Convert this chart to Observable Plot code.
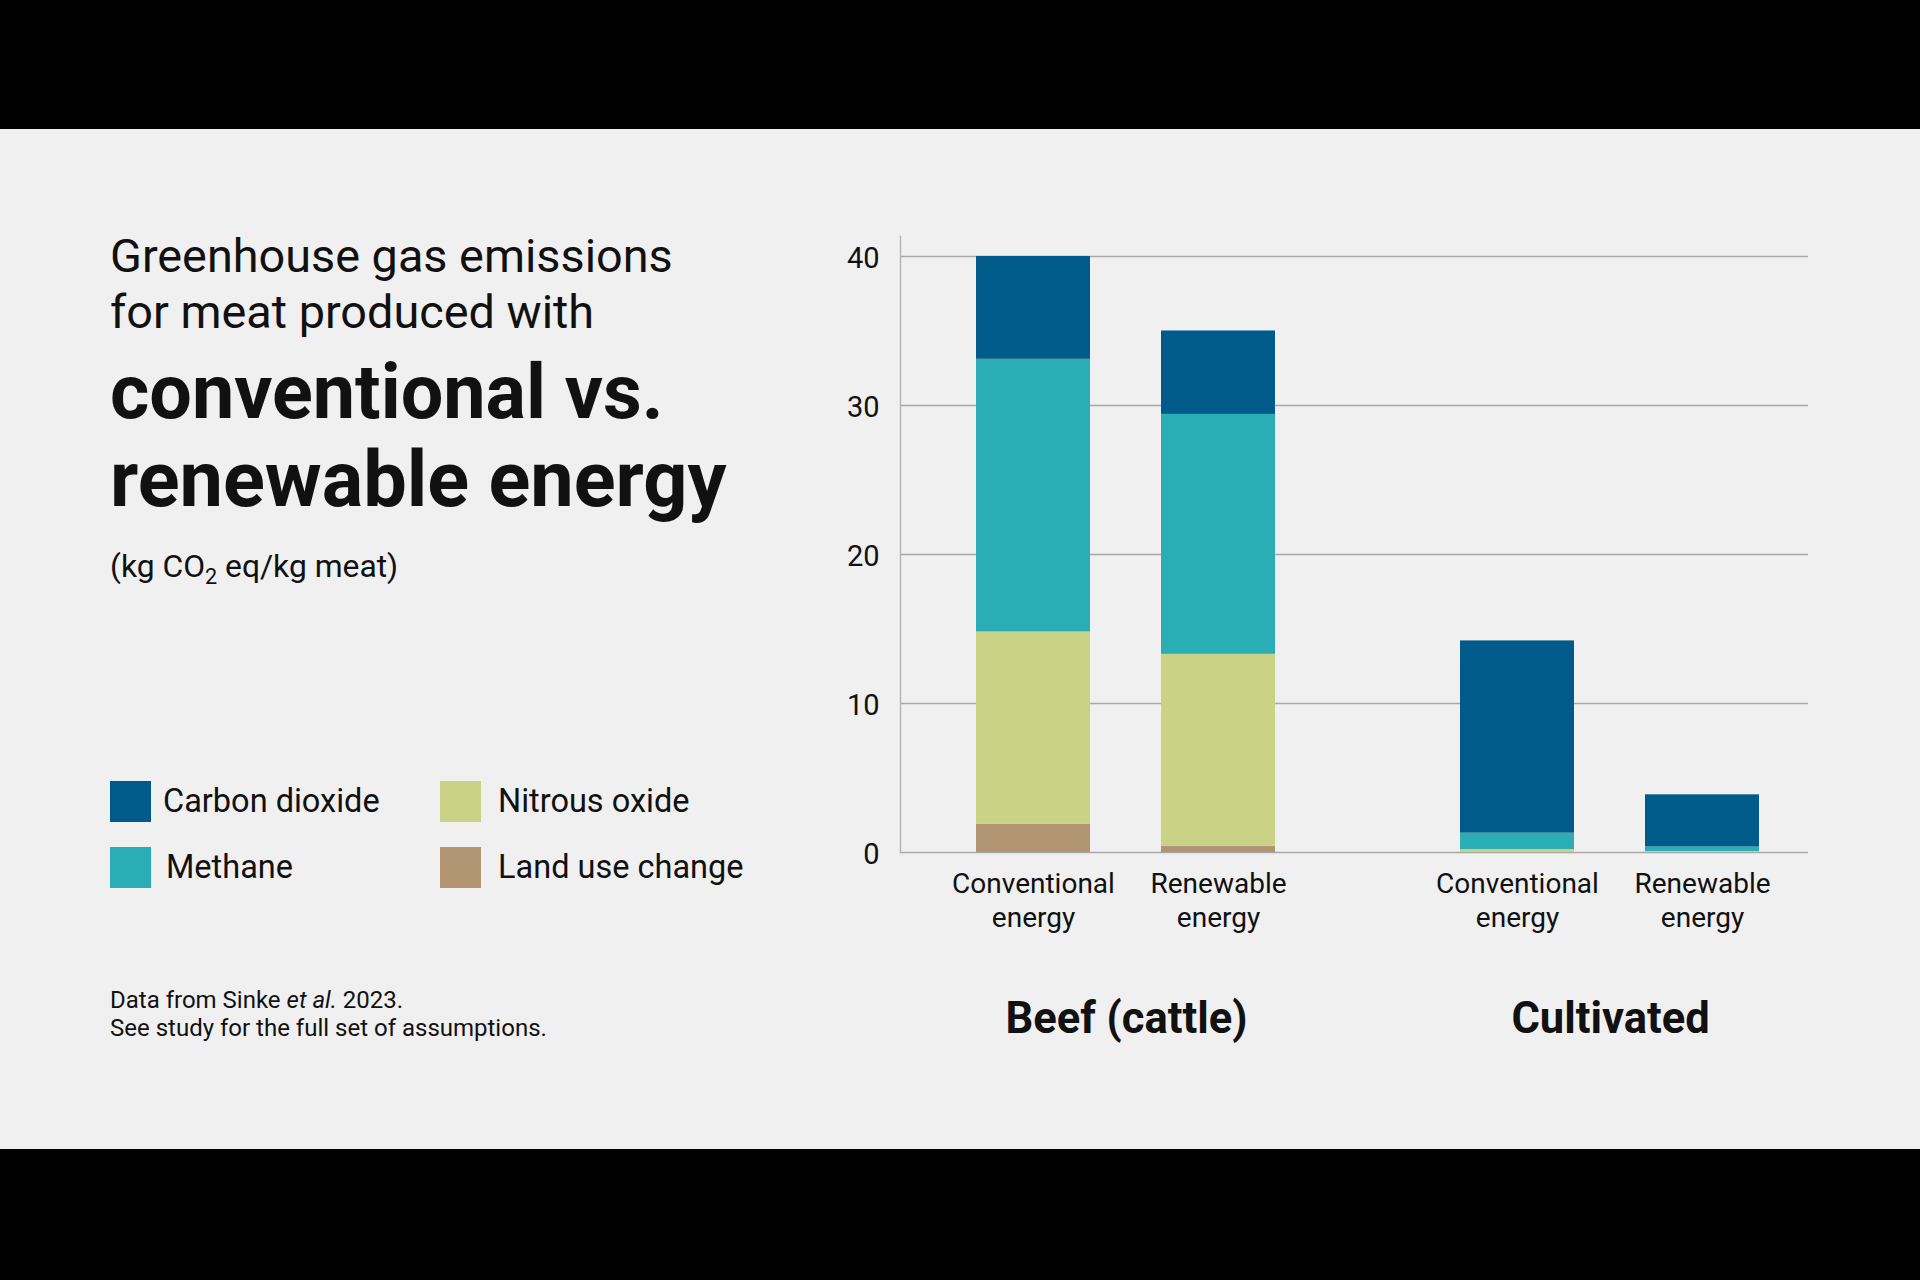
<!DOCTYPE html>
<html>
<head>
<meta charset="utf-8">
<script src="https://cdn.jsdelivr.net/npm/d3@7"></script>
<script src="https://cdn.jsdelivr.net/npm/@observablehq/plot@0.6"></script>
<style>
  html, body { margin: 0; padding: 0; background: #000; }
  #page { position: relative; width: 1920px; height: 1280px; background: #000; overflow: hidden; font-family: Roboto, sans-serif; color: #111; }
  #panel { position: absolute; left: 0; top: 129px; width: 1920px; height: 1020px; background: #f0f0f0; }
  .t { position: absolute; white-space: nowrap; }
  .sw { position: absolute; width: 41px; height: 41px; }
  #chart { position: absolute; left: 820px; top: 200px; width: 1040px; height: 870px; }
  #chart svg { position: absolute; left: 0; top: 0; }
  sub { font-size: 0.68em; vertical-align: -0.32em; line-height: 0; }
</style>
</head>
<body>
<div id="page">
  <div id="panel"></div>
  <div id="chart"></div>
</div>
<script>
// ---- Data ----
const groups = ["Beef (cattle)", "Beef (cattle)", "Cultivated", "Cultivated"];
const energies = ["Conventional energy", "Renewable energy", "Conventional energy", "Renewable energy"];
const groupOrder = ["Beef (cattle)", "Cultivated"];
const energyOrder = ["Conventional energy", "Renewable energy"];
// stacking order, bottom to top
const gases = ["Land use change", "Nitrous oxide", "Methane", "Carbon dioxide"];
const landUseChange = [1.9, 0.4, 0, 0];
const nitrousOxide = [12.9, 12.9, 0.2, 0.07];
const methane = [18.3, 16.1, 1.1, 0.3];
const carbonDioxide = [6.9, 5.6, 12.9, 3.5];
const yTicks = [0, 10, 20, 30, 40];
const legendOrder = ["Carbon dioxide", "Methane", "Nitrous oxide", "Land use change"];
const gasColors = ["#005b8a", "#2aadb5", "#cad285", "#b19472"]; // legendOrder colours

const titleLines = ["Greenhouse gas emissions", "for meat produced with"];
const boldLines = ["conventional vs.", "renewable energy"];
const unitsHtml = "(kg CO<sub>2</sub> eq/kg meat)";
const noteLines = ["Data from Sinke <i>et al.</i> 2023.", "See study for the full set of assumptions."];

// ---- Table ----
const series = [landUseChange, nitrousOxide, methane, carbonDioxide];
const rows = [];
groups.forEach((g, i) => {
  gases.forEach((gas, j) => {
    rows.push({group: g, energy: energies[i], gas, value: series[j][i]});
  });
});

// ---- Text helpers ----
const page = document.getElementById("page");
function addText(html, x, baseline, size, weight = 400) {
  const d = document.createElement("div");
  d.className = "t";
  d.innerHTML = html;
  d.style.left = x + "px";
  d.style.top = (baseline - 0.928 * size) + "px";
  d.style.fontSize = size + "px";
  d.style.lineHeight = (1.172 * size) + "px";
  d.style.fontWeight = weight;
  page.appendChild(d);
  return d;
}

titleLines.forEach((s, i) => addText(s, 110, 272 + i * 56, 46.8, 400));
addText(boldLines[0], 110, 418, 75.5, 700);
addText(boldLines[1], 110, 507, 77.5, 700);
addText(unitsHtml, 110, 578, 31.8, 400);

// legend
const legCols = [110, 440], legRows = [781, 847];
const labelDx = [[53, 56], [58, 58]];
legendOrder.forEach((name, k) => {
  const col = Math.floor(k / 2), row = k % 2;
  const sw = document.createElement("div");
  sw.className = "sw";
  sw.style.left = legCols[col] + "px";
  sw.style.top = legRows[row] + "px";
  sw.style.background = gasColors[k];
  page.appendChild(sw);
  addText(name, legCols[col] + labelDx[col][row], legRows[row] + 31, 32.5, 400);
});

noteLines.forEach((s, i) => addText(s, 110, 1008 + i * 28, 24, 400));

// ---- Chart: shared geometry ----
const common = {
  width: 1040,
  height: 870,
  marginLeft: 80,
  marginRight: 24,
  marginTop: 36,
  marginBottom: 218,
  style: {background: "transparent", fontFamily: "Roboto, sans-serif", color: "#111", overflow: "visible"},
  y: {domain: [0, 41.34], label: null}
};

// background layer: grid, axis line, y tick labels
const back = Plot.plot({
  ...common,
  marks: [
    Plot.ruleY(yTicks, {stroke: "#a8a8a8", strokeWidth: 1.4, insetRight: 28}),
    Plot.frame({anchor: "left", stroke: "#b3b3b3", strokeWidth: 1.4}),
    Plot.axisY({ticks: yTicks, tickSize: 0, tickPadding: 21, dy: 2, fontSize: 29, label: null})
  ]
});

// foreground layer: faceted stacked bars and category labels
const front = Plot.plot({
  ...common,
  y: {domain: [0, 41.34], label: null, axis: null},
  fx: {domain: groupOrder, paddingInner: 0.07, paddingOuter: 0, label: null},
  x: {domain: energyOrder, paddingInner: 0.3817, paddingOuter: 0.4032, label: null},
  color: {domain: legendOrder, range: gasColors},
  marks: [
    Plot.barY(rows, {fx: "group", x: "energy", y: "value", fill: "gas"}),
    Plot.axisX({tickSize: 0, tickPadding: 17, fontSize: 28, lineHeight: 1.2, label: null,
      tickFormat: d => d.replace(" ", "\n")}),
    Plot.axisFx({anchor: "bottom", tickSize: 0, tickPadding: 150, fontSize: 43.5, fontWeight: "bold", label: null})
  ]
});

const chartDiv = document.getElementById("chart");
chartDiv.appendChild(back);
chartDiv.appendChild(front);
</script>
</body>
</html>
